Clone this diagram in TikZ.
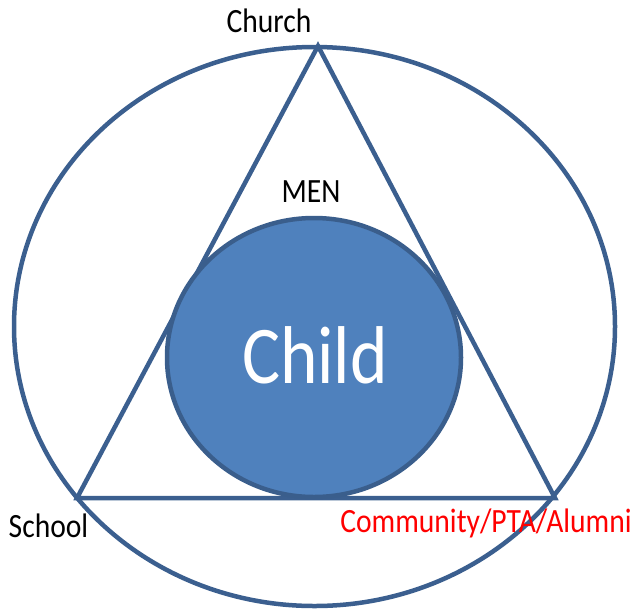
\documentclass[tikz,border=0pt]{standalone}
\usepackage{fontspec}
\setmainfont{Carlito}[FakeStretch=0.87]
\usepackage{tikz}
\usetikzlibrary{shapes.geometric}
\definecolor{edgeblue}{HTML}{3B5F8F}
\definecolor{childfill}{HTML}{4F81BD}
\definecolor{childline}{HTML}{3A5E8C}
\tikzstyle{ring} = [draw=edgeblue, line width=4.5pt]
\tikzstyle{corner} = [font=\fontsize{34}{40}\selectfont, anchor=base]
\tikzstyle{childnode} = [ellipse, minimum width=294pt, minimum height=279pt, inner sep=0pt, draw=childline, line width=4.5pt, fill=childfill, text=white, font=\fontsize{82}{90}\selectfont]

\begin{document}
\begin{tikzpicture}[x=1pt, y=-1pt]
        \useasboundingbox (0,0) rectangle (634,611);
        % Outer ring and corners
        \draw [ring] (314.5,326.5) ellipse [x radius=300.5pt, y radius=279.5pt];
        \coordinate (church) at (318,46);
        \coordinate (school) at (77,498);
        \coordinate (community) at (555,498);
        \draw [ring, line join=miter] (church) -- (community) -- (school) -- cycle;

        % Centre
        \node (child) [childnode] at (314,357.5) {};
        \node (childtext) [anchor=base, text=white, font=\fontsize{82}{90}\selectfont] at (315,383) {Child};

        % Labels
        \node (churchlabel) [corner] at (269,32) {Church};
        \node (menlabel) [corner] at (311,202) {MEN};
        \node (schoollabel) [corner] at (48.5,537) {School};
        \node (communitylabel) [corner, text=red] at (486,532) {Community/PTA/Alumni};
    \end{tikzpicture}
\end{document}
